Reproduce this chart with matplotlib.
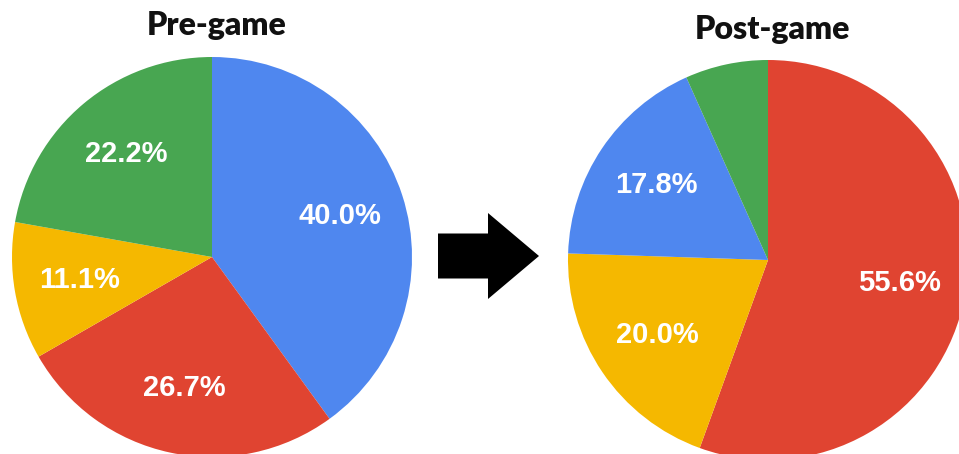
import matplotlib
matplotlib.use("Agg")
import matplotlib.pyplot as plt
from matplotlib.patches import FancyArrow

# Data (percent of respondents)
pre_labels = ["Blue", "Red", "Yellow", "Green"]
pre_values = [40.0, 26.7, 11.1, 22.2]
post_labels = ["Red", "Yellow", "Blue", "Green"]
post_values = [55.6, 20.0, 17.8, 6.7]
titles = ["Pre-game", "Post-game"]

colors = {"Blue": "#4F87EF", "Red": "#E04431", "Yellow": "#F5B800", "Green": "#48A651"}

W, H = 959, 454
fig = plt.figure(figsize=(W / 100, H / 100), dpi=100)
ax = fig.add_axes([0, 0, 1, 1])

def make_fmt(vals):
    it = iter(vals)
    def fmt(p):
        v = next(it)
        return f"{v:.1f}%" if v > 10 else ""
    return fmt

label_font = dict(color="white", fontsize=21, fontweight="bold", family="Liberation Sans")

for vals, labs, center in [(pre_values, pre_labels, (212, H - 257)),
                           (post_values, post_labels, (768, H - 260))]:
    ax.pie(vals, colors=[colors[l] for l in labs], startangle=90, counterclock=False,
           center=center, radius=200, autopct=make_fmt(vals), pctdistance=0.67,
           textprops=label_font, frame=True,
           wedgeprops=dict(linewidth=0))

ax.text(217, H - 25, titles[0], ha="center", va="center", fontsize=23,
        fontweight="heavy", family="Lato", color="#111111")
ax.text(772, H - 29, titles[1], ha="center", va="center", fontsize=23,
        fontweight="heavy", family="Lato", color="#111111")

ax.add_patch(FancyArrow(438, H - 256, 101, 0, width=45, head_width=86, head_length=51,
                        length_includes_head=True, color="black", linewidth=0))

ax.set_xlim(0, W)
ax.set_ylim(0, H)
ax.set_aspect("equal")
ax.axis("off")

fig.savefig("out.png", dpi=100)
